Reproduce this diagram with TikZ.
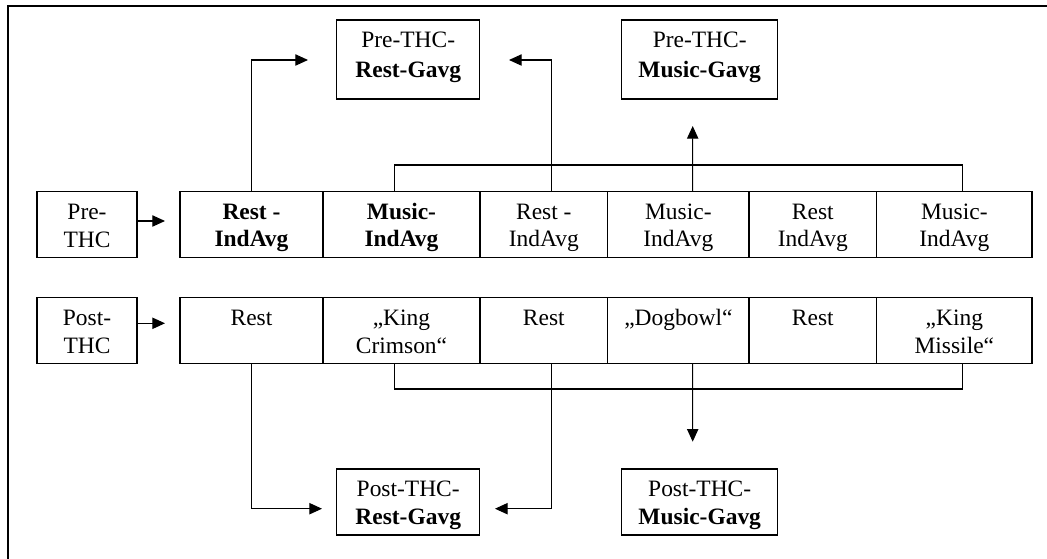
\documentclass[tikz,border=0pt]{standalone}
\usepackage{fontspec}
\setmainfont{Liberation Serif}
\usetikzlibrary{arrows.meta,calc}
\newcommand\sa{\rule[-3pt]{0pt}{19.7pt}}
\newcommand\sbb{\rule[-12.2pt]{0pt}{28.9pt}}
\begin{document}
\begin{tikzpicture}[x=0.75pt,y=-0.75pt,line width=0.8pt,
  box/.style={draw,inner sep=0pt,outer sep=0pt,align=center,
    font=\fontsize{17.6pt}{20.5pt}\selectfont},
  rowA/.style={box,minimum height=49.2pt},
  rowB/.style={box,minimum height=49.5pt},
  arr/.style={-{Triangle[length=9.5pt,width=8.5pt]}}]
\useasboundingbox (0,0) rectangle (1047,559);
\draw (8,559) -- (8,6) -- (1047,6);

% Pre-THC row
\node[rowA,minimum width=75pt] (pre) at (87,224.5) {\sa Pre-\\\sa THC};
\node[rowA,minimum width=107.25pt] (c1) at (251.5,224.5) {\sa\bfseries Rest -\\\sa\bfseries IndAvg};
\node[rowA,minimum width=117.75pt] (c2) at (401.5,224.5) {\sa\bfseries Music-\\\sa\bfseries IndAvg};
\node[rowA,minimum width=95.8pt] (c3) at (543.85,224.5) {\sa Rest -\\\sa IndAvg};
\node[rowA,minimum width=106pt] (c4) at (678.35,224.5) {\sa Music-\\\sa IndAvg};
\node[rowA,minimum width=95.8pt] (c5) at (812.85,224.5) {\sa Rest\\\sa IndAvg};
\node[rowA,minimum width=116.5pt] (c6) at (954.35,224.5) {\sa Music-\\\sa IndAvg};

% Pre-THC Gavg boxes
\node[box,minimum width=107.25pt,minimum height=59.25pt] (gr) at (408.2,59.5) {\sa Pre-THC-\\[1.8pt]\sbb\bfseries Rest-Gavg};
\node[box,minimum width=117pt,minimum height=59.25pt] (gm) at (699.7,59.5) {\sa Pre-THC-\\[1.8pt]\sbb\bfseries Music-Gavg};

% Post-THC row
\node[rowB,minimum width=75pt] (post) at (87,330.3) {\sa Post-\\\sa THC};
\node[rowB,minimum width=107.25pt] (d1) at (251.5,330.3) {\sa Rest\\\sa};
\node[rowB,minimum width=117.75pt] (d2) at (401.5,330.3) {\sa „King\\\sa Crimson“};
\node[rowB,minimum width=95.8pt] (d3) at (543.85,330.3) {\sa Rest\\\sa};
\node[rowB,minimum width=106pt] (d4) at (678.35,330.3) {\sa „Dogbowl“\\\sa};
\node[rowB,minimum width=95.8pt] (d5) at (812.85,330.3) {\sa Rest\\\sa};
\node[rowB,minimum width=116.5pt] (d6) at (954.35,330.3) {\sa „King\\\sa Missile“};

% Post-THC Gavg boxes
\node[rowB,minimum width=107.25pt] (hr) at (408.2,502) {\sa Post-THC-\\[0.7pt]\sa\bfseries Rest-Gavg};
\node[rowB,minimum width=117pt] (hm) at (699.7,502) {\sa Post-THC-\\[0.7pt]\sa\bfseries Music-Gavg};

% arrow end points
\coordinate (pa) at (165,221);
\coordinate (pb) at (165,323.3);
\coordinate (ta) at (308,60);
\coordinate (tb) at (509,60);
\coordinate (tc) at (692.7,126);
\coordinate (ba) at (322,508.7);
\coordinate (bb) at (495,508.7);
\coordinate (bc) at (692.7,441.7);

% top connectors
\draw[arr] (pre.east |- pa) -- (pa);
\draw[arr] (c1.north) |- (ta);
\draw[arr] ($(c3.north)+(7.2,0)$) |- (tb);
\draw ($(c2.north)+(-7.2,0)$) -- ++(0,-26.7) -| ($(c6.north)+(7.7,0)$);
\draw[arr] ($(c4.north)+(14.3,0)$) -- (tc);

% bottom connectors
\draw[arr] (post.east |- pb) -- (pb);
\draw[arr] (d1.south) |- (ba);
\draw[arr] ($(d3.south)+(7.2,0)$) |- (bb);
\draw ($(d2.south)+(-7.2,0)$) -- ++(0,25.7) -| ($(d6.south)+(7.7,0)$);
\draw[arr] ($(d4.south)+(14.3,0)$) -- (bc);
\end{tikzpicture}
\end{document}
